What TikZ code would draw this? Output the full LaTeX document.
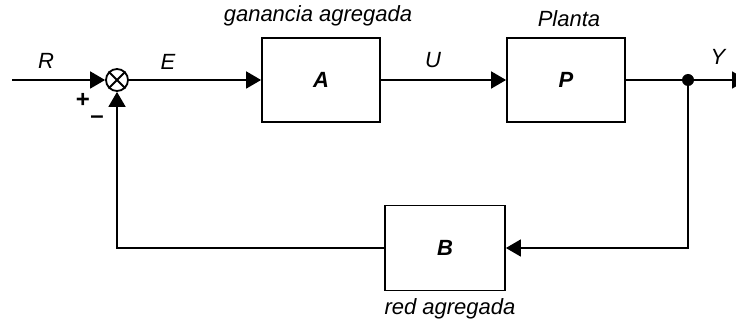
\documentclass[tikz,border=0pt]{standalone}
\usepackage{fontspec}
\setmainfont{Liberation Sans}
\usepackage{tikz}
\usetikzlibrary{arrows.meta}

\tikzset{
  tri/.style = {-{Triangle[length=15pt,width=17pt]}},
  bloque/.style = {draw, line width=1.8pt, minimum width=118pt, minimum height=84pt,
                   font=\fontsize{22}{26}\selectfont\bfseries\itshape},
  suma/.style = {draw, line width=1.8pt, circle, minimum size=22pt, inner sep=0pt},
  etiq/.style = {font=\fontsize{22}{26}\selectfont\itshape},
  signo/.style = {font=\fontsize{24}{28}\selectfont\bfseries, inner sep=0pt},
}

\begin{document}
\begin{tikzpicture}[x=1pt, y=-1pt, line width=1.8pt]
\useasboundingbox (0,0) rectangle (736,320);
\node[suma] (sum) at (117,80) {};
\draw (sum.north east) -- (sum.south west);
\draw (sum.north west) -- (sum.south east);
\node[bloque] (A) at (321,80) {A};
\node[bloque] (P) at (566,80) {P};
\node[bloque, minimum width=120pt, minimum height=85pt] (B) at (445,248) {B};
\coordinate (ent) at (12,80);
\coordinate (sal) at (747,80);
\coordinate (rama) at (688,80);
\fill (rama) circle (6pt);

\draw[tri] (ent) -- (sum);
\draw[tri] (sum) -- (A);
\draw[tri] (A) -- (P);
\draw (P) -- (rama);
\draw[tri] (rama) -- (sal);
\draw[tri] (rama) |- (B.east);
\draw[tri] (B.west) -| (sum.south);

\node[etiq] (lR) at (46,61) {R};
\node[etiq] (lE) at (168,62) {E};
\node[etiq] (lU) at (433,60) {U};
\node[etiq] (lY) at (718,57) {Y};
\node[etiq] (lA) at (318,16) {ganancia agregada};
\node[etiq] (lP) at (569,19) {Planta};
\node[etiq] (lB) at (450,309) {red agregada};
\node[signo] (mas) at (83,100) {+};
\node[signo] (menos) at (97,120) {–};
\end{tikzpicture}
\end{document}
